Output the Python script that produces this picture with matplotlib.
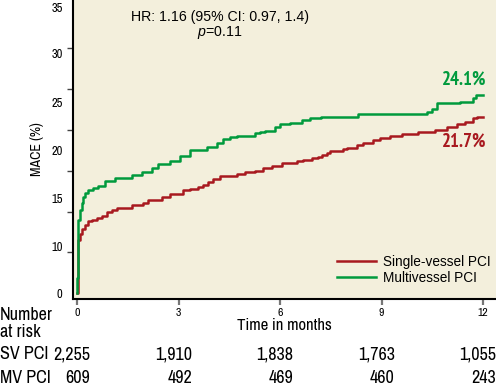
import matplotlib
matplotlib.use("Agg")
import matplotlib.pyplot as plt
from matplotlib.ticker import FixedLocator, NullFormatter

plt.rcParams['font.family'] = ['Liberation Sans', 'DejaVu Sans']
plt.rcParams['mathtext.fontset'] = 'custom'
plt.rcParams['mathtext.it'] = 'Liberation Sans:italic'
plt.rcParams['mathtext.rm'] = 'Liberation Sans'

NARROW = ['Archivo Narrow', 'PT Sans Narrow', 'Liberation Sans', 'DejaVu Sans']
NARROW_BOLD = ['PT Sans Narrow', 'Archivo Narrow', 'Liberation Sans', 'DejaVu Sans']

# ---- data (time in months, cumulative MACE %) ----
mv_time = [0.0, 0.005, 0.03, 0.08, 0.13, 0.18, 0.23, 0.33, 0.47, 0.62, 0.82, 1.12,
           1.61, 1.90, 2.20, 2.40, 2.74, 3.04, 3.33, 3.83, 4.12, 4.31, 4.52, 4.71,
           5.26, 5.40, 5.55, 5.85, 6.00, 6.29, 6.64, 6.88, 7.20, 8.31, 10.34, 10.48,
           10.63, 11.32, 11.72, 11.80, 12.0]
mv_mace = [0.0, 1.9, 9.0, 10.2, 11.0, 11.8, 12.3, 12.6, 12.85, 13.1, 13.8, 14.15,
           14.5, 14.8, 15.3, 15.8, 16.2, 16.8, 17.5, 17.9, 18.4, 18.85, 19.1, 19.25,
           19.6, 19.8, 19.9, 20.4, 20.7, 20.9, 21.2, 21.4, 21.6, 22.0, 22.2, 22.6,
           23.25, 23.45, 23.9, 24.3, 24.3]

sv_time = [0.0, 0.03, 0.08, 0.13, 0.23, 0.33, 0.43, 0.57, 0.72, 0.87, 1.02, 1.16,
           1.61, 1.95, 2.10, 2.50, 2.74, 3.14, 3.33, 3.58, 3.73, 3.88, 4.02, 4.22,
           4.71, 4.96, 5.26, 5.50, 5.75, 6.05, 6.49, 6.69, 6.93, 7.13, 7.23, 7.38,
           7.47, 7.87, 7.97, 8.27, 8.46, 8.76, 8.96, 9.25, 9.60, 10.09, 10.58, 10.93,
           11.22, 11.47, 11.72, 11.82, 12.0]
sv_mace = [0.0, 6.5, 7.3, 7.9, 8.3, 8.8, 9.0, 9.2, 9.5, 9.9, 10.2, 10.4,
           10.8, 11.1, 11.4, 11.8, 12.2, 12.6, 12.8, 13.05, 13.25, 13.65, 13.95, 14.3,
           14.6, 14.9, 15.0, 15.3, 15.6, 15.9, 16.2, 16.3, 16.5, 16.7, 16.9, 17.2,
           17.45, 17.6, 17.8, 18.15, 18.4, 18.75, 19.0, 19.25, 19.45, 19.7, 20.0, 20.4,
           20.7, 21.0, 21.4, 21.6, 21.6]

series_names = ['Single-vessel PCI', 'Multivessel PCI']
final_labels = ['21.7%', '24.1%']

x_ticks = [0, 3, 6, 9, 12]
y_marks = [0, 5, 10, 15, 20, 25, 30, 35]
y_label_vals = [0, 5.7, 11.55, 17.45, 23.4, 29.4, 35.0]
y_label_text = ['0', '10', '15', '20', '25', '30', '35']

risk_rows = ['SV PCI', 'MV PCI']
sv_risk = ['2,255', '1,910', '1,838', '1,763', '1,055']
mv_risk = ['609', '492', '469', '460', '243']

RED = '#a8191f'
GREEN = '#009a3d'
BG = '#f3efdc'

fig = plt.figure(figsize=(4.96, 3.88), dpi=100)
ax = fig.add_axes([0.1472, 0.2294, 0.853, 0.7706])
ax.set_facecolor(BG)

ax.step(sv_time, sv_mace, where='post', color=RED, lw=1.8, label=series_names[0], zorder=3)
ax.step(mv_time, mv_mace, where='post', color=GREEN, lw=1.8, label=series_names[1], zorder=3)

ax.set_xlim(-0.127, 12.39)
ax.set_ylim(-0.70, 35.9)

for s in ['top', 'right']:
    ax.spines[s].set_visible(False)
for s in ['left', 'bottom']:
    ax.spines[s].set_linewidth(1.5)
    ax.spines[s].set_color('black')

ax.set_xticks(x_ticks)
ax.set_xticklabels([str(v) for v in x_ticks], fontfamily=NARROW, fontsize=8.5)
ax.tick_params(axis='x', which='major', length=4.5, width=1.6, color='#777777', pad=2)

ax.yaxis.set_major_locator(FixedLocator(y_label_vals))
ax.set_yticklabels(y_label_text, fontfamily=NARROW, fontsize=9)
ax.tick_params(axis='y', which='major', length=0, pad=7.5)
ax.yaxis.set_minor_locator(FixedLocator(y_marks))
ax.yaxis.set_minor_formatter(NullFormatter())
ax.tick_params(axis='y', which='minor', length=4.3, width=1.0, color='#444444')

ax.set_ylabel('MACE (%)', fontfamily=NARROW, fontsize=10, labelpad=5)
ax.set_xlabel('Time in months', fontfamily=NARROW, fontsize=12, labelpad=0)

ax.text(0.3475, 0.943, 'HR: 1.16 (95% CI: 0.97, 1.4)', transform=ax.transAxes,
        ha='center', va='center', fontsize=10.2)
ax.text(0.3475, 0.890, '$p$=0.11', transform=ax.transAxes,
        ha='center', va='center', fontsize=10.2)

ax.text(12.09, 26.1, final_labels[1], ha='right', va='center', color=GREEN,
        fontsize=13.5, fontweight='bold', fontfamily=NARROW_BOLD)
ax.text(12.09, 18.5, final_labels[0], ha='right', va='center', color=RED,
        fontsize=13.5, fontweight='bold', fontfamily=NARROW_BOLD)

ax.legend(loc='center left', bbox_to_anchor=(0.624, 0.097), frameon=False,
          fontsize=9.8, handlelength=2.85, handletextpad=0.5, borderpad=0,
          borderaxespad=0, labelspacing=0.15)

fig.text(0.0, 0.188, 'Number', ha='left', va='center', fontsize=13, fontfamily=NARROW)
fig.text(0.0, 0.145, 'at risk', ha='left', va='center', fontsize=13, fontfamily=NARROW)
row_y = [0.0876, 0.0265]
for name, vals, yy in zip(risk_rows, [sv_risk, mv_risk], row_y):
    fig.text(0.0, yy, name, ha='left', va='center', fontsize=13, fontfamily=NARROW)
    for t, v in zip(x_ticks, vals):
        ax.annotate(v, xy=(t, yy), xycoords=('data', 'figure fraction'),
                    xytext=(9.5, 0), textcoords='offset points',
                    ha='right', va='center', fontsize=13, fontfamily=NARROW,
                    annotation_clip=False)

fig.savefig('out.png', dpi=100, facecolor='white')
